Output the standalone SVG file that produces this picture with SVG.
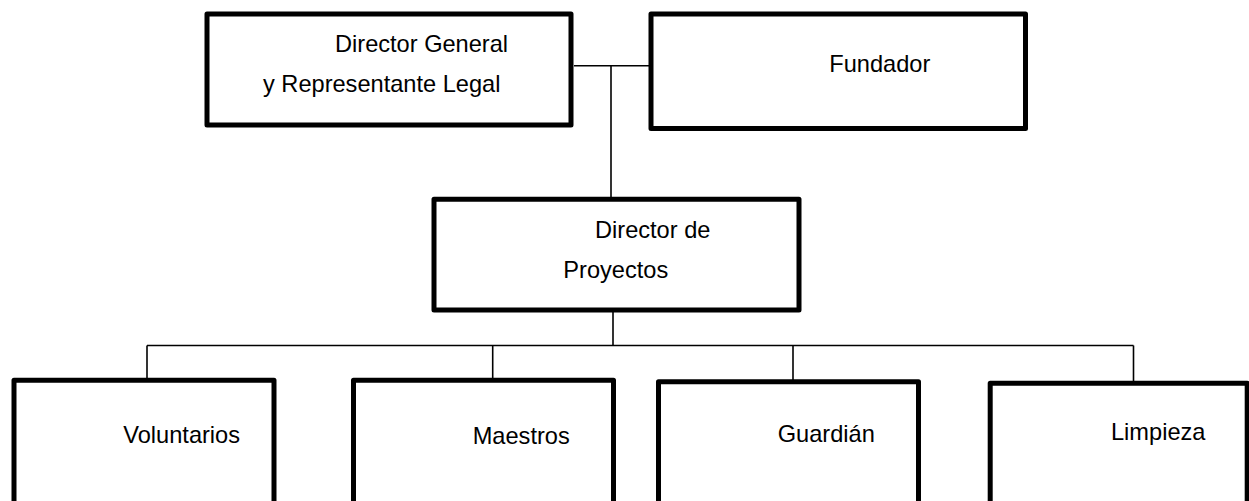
<svg xmlns="http://www.w3.org/2000/svg" width="1249" height="501" viewBox="0 0 1249 501">
<style>
.box{fill:#fff;stroke:#000;stroke-width:5;stroke-linejoin:round}
.lbl{font-family:"Liberation Sans",Arial,sans-serif;font-size:23.6px;fill:#000}
.con{stroke:#000;stroke-width:1.6;fill:none}
</style>
<rect width="1249" height="501" fill="#fff"/>
<g id="connectors">
<line class="con" x1="574" y1="65.7" x2="649" y2="65.7"/>
<line class="con" x1="611" y1="65.7" x2="611" y2="197"/>
<line class="con" x1="613" y1="312" x2="613" y2="345.5"/>
<line class="con" x1="147" y1="345.5" x2="1133.5" y2="345.5"/>
<line class="con" x1="147" y1="345.5" x2="147" y2="378"/>
<line class="con" x1="492.7" y1="345.5" x2="492.7" y2="378"/>
<line class="con" x1="793" y1="345.5" x2="793" y2="380"/>
<line class="con" x1="1133.5" y1="345.5" x2="1133.5" y2="381"/>
</g>
<g id="director-general">
<rect class="box" x="207" y="14" width="364" height="111"/>
<text class="lbl" x="335" y="52.3">Director General</text>
<text class="lbl" x="263" y="92">y Representante Legal</text>
</g>
<g id="fundador">
<rect class="box" x="651" y="14" width="374.5" height="114.5"/>
<text class="lbl" x="829.3" y="72.3">Fundador</text>
</g>
<g id="director-proyectos">
<rect class="box" x="434" y="199.3" width="365" height="110.7"/>
<text class="lbl" x="595" y="238.3">Director de</text>
<text class="lbl" x="563.3" y="278.3">Proyectos</text>
</g>
<g id="voluntarios">
<rect class="box" x="14" y="380.2" width="260" height="150"/>
<text class="lbl" x="123.3" y="442.7">Voluntarios</text>
</g>
<g id="maestros">
<rect class="box" x="353.5" y="380.2" width="260" height="150"/>
<text class="lbl" x="472.7" y="444">Maestros</text>
</g>
<g id="guardian">
<rect class="box" x="658.5" y="381.8" width="260" height="150"/>
<text class="lbl" x="777.7" y="441.7">Guardián</text>
</g>
<g id="limpieza">
<rect class="box" x="990.2" y="383.2" width="257" height="150"/>
<text class="lbl" x="1111" y="440">Limpieza</text>
</g>
</svg>
